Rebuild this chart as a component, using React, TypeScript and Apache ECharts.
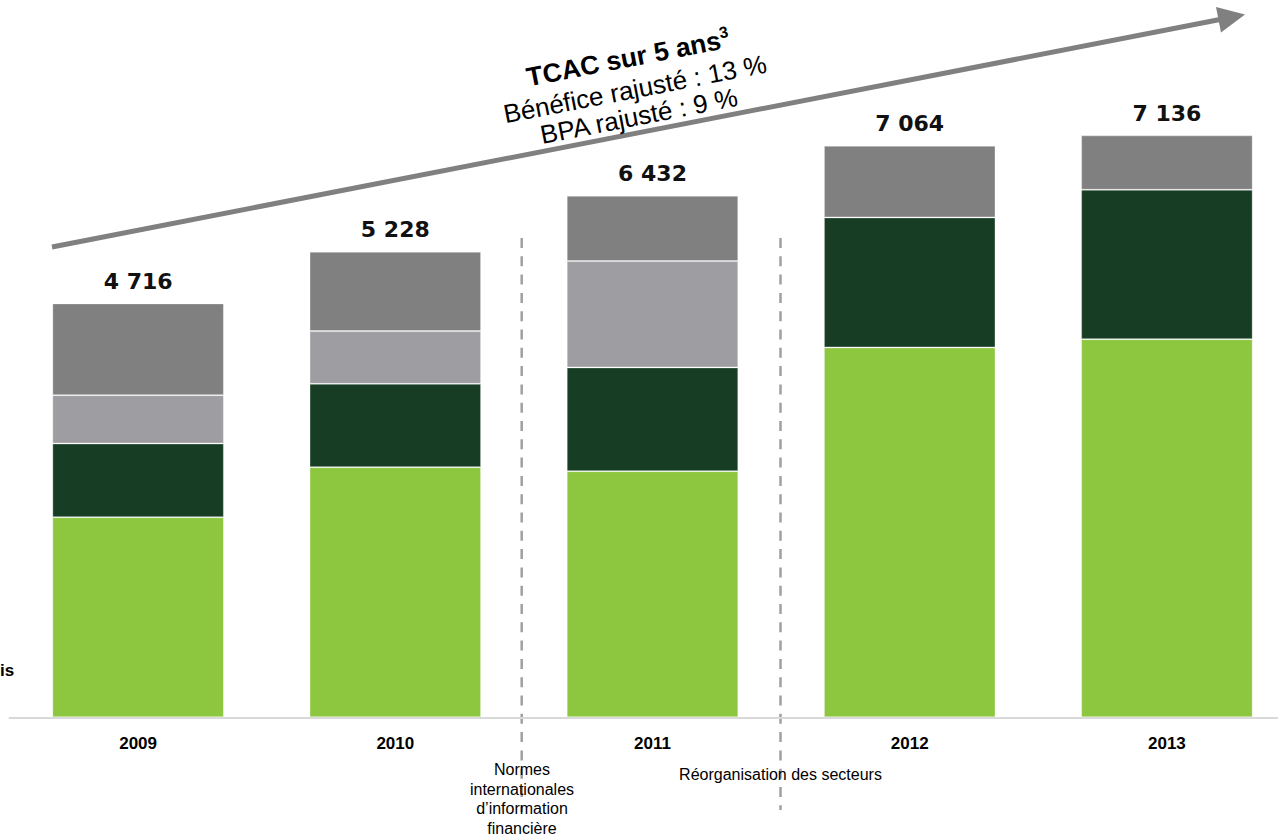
import React, { useEffect, useRef } from "react";
import * as echarts from "echarts";

const years = ["2009", "2010", "2011", "2012", "2013"];
const totals = [4716, 5228, 6432, 7064, 7136];
const segLightGreen = [2454, 3068, 3019, 4536, 4638];
const segDarkGreen = [904, 1022, 1272, 1595, 1832];
const segLightGray: (number | string)[] = [593, 647, 1304, "-", "-"];
const segDarkGray = [1125, 973, 801, 879, 667];

const titleLine = "TCAC sur 5 ans";
const titleSup = "3";
const line2 = "Bénéfice rajusté : 13 %";
const line3 = "BPA rajusté : 9 %";
const noteIfrs = "Normes\ninternationales\nd’information\nfinancière";
const noteReorg = "Réorganisation des secteurs";
const clippedLeft = "is";

const fmt = (v: number) => {
  const s = String(v);
  return s.length > 3 ? s.slice(0, s.length - 3) + " " + s.slice(-3) : s;
};

export default function App() {
  const ref = useRef<HTMLDivElement>(null);
  useEffect(() => {
    if (!ref.current) return;
    const chart = echarts.init(ref.current, null, { renderer: "svg" });
    const rot = 0.1925;
    const sans = '"Liberation Sans", Arial, sans-serif';
    const border = { borderColor: "rgba(255,255,255,0.3)", borderWidth: 1 };
    chart.setOption({
      animation: false,
      grid: { left: 9.5, width: 1286, top: 65, bottom: 116.7, containLabel: false },
      xAxis: {
        type: "category",
        data: years,
        axisLine: { lineStyle: { color: "#d9d9d9", width: 2 } },
        axisTick: { show: false },
        axisLabel: {
          color: "#000",
          fontWeight: "bold",
          fontSize: 17,
          fontFamily: sans,
          margin: 18,
        },
      },
      yAxis: { type: "value", min: 0, max: 8000, show: false, splitLine: { show: false } },
      series: [
        {
          type: "bar",
          stack: "t",
          barWidth: "66.7%",
          data: segLightGreen,
          itemStyle: { color: "#8DC63F", ...border },
        },
        {
          type: "bar",
          stack: "t",
          data: segDarkGreen,
          itemStyle: { color: "#173E24", ...border },
        },
        {
          type: "bar",
          stack: "t",
          data: segLightGray,
          itemStyle: { color: "#9E9DA1", ...border },
        },
        {
          type: "bar",
          stack: "t",
          data: segDarkGray,
          itemStyle: { color: "#808080", ...border },
          label: {
            show: true,
            position: "top",
            distance: 11,
            color: "#111",
            fontFamily: '"DejaVu Sans", Verdana, sans-serif',
            fontWeight: "bold",
            fontSize: 22,
            formatter: (p: any) => fmt(totals[p.dataIndex]),
          },
        },
      ],
      graphic: [
        {
          type: "line",
          shape: { x1: 52, y1: 247, x2: 1220, y2: 19.5 },
          style: { stroke: "#808080", lineWidth: 5 },
        },
        {
          type: "polygon",
          shape: { points: [[1245, 14.5], [1216, 6.9], [1221, 32.5]] },
          style: { fill: "#808080" },
        },
        {
          type: "text",
          x: 628,
          y: 58,
          rotation: rot,
          style: {
            text: "{a|" + titleLine + "}{b|" + titleSup + "}",
            textAlign: "center",
            textVerticalAlign: "middle",
            rich: {
              a: { fontSize: 26.5, fontWeight: "bold", fontFamily: sans, fill: "#000", lineHeight: 30 },
              b: { fontSize: 16, fontWeight: "bold", fontFamily: sans, fill: "#000", lineHeight: 16, verticalAlign: "top" },
            },
          },
        },
        {
          type: "text",
          x: 635,
          y: 89,
          rotation: rot,
          style: {
            text: line2,
            font: "26px " + sans,
            fill: "#000",
            textAlign: "center",
            textVerticalAlign: "middle",
          },
        },
        {
          type: "text",
          x: 639,
          y: 116,
          rotation: rot,
          style: {
            text: line3,
            font: "26px " + sans,
            fill: "#000",
            textAlign: "center",
            textVerticalAlign: "middle",
          },
        },
        {
          type: "line",
          shape: { x1: 521.7, y1: 238, x2: 521.7, y2: 812 },
          style: { stroke: "#a0a0a0", lineWidth: 2.5, lineDash: [10, 8.3] },
        },
        {
          type: "line",
          shape: { x1: 780.5, y1: 238, x2: 780.5, y2: 810 },
          style: { stroke: "#a0a0a0", lineWidth: 2.5, lineDash: [10, 8.3] },
        },
        {
          type: "text",
          x: 522,
          y: 760,
          style: {
            text: noteIfrs,
            font: "16px " + sans,
            lineHeight: 19.5,
            fill: "#000",
            textAlign: "center",
            textVerticalAlign: "top",
          },
        },
        {
          type: "text",
          x: 780.5,
          y: 774,
          style: {
            text: noteReorg,
            font: "16px " + sans,
            fill: "#000",
            textAlign: "center",
            textVerticalAlign: "middle",
          },
        },
        {
          type: "text",
          x: 0,
          y: 670,
          style: {
            text: clippedLeft,
            font: "bold 17px " + sans,
            fill: "#000",
            textAlign: "left",
            textVerticalAlign: "middle",
          },
        },
      ],
    });
    return () => chart.dispose();
  }, []);
  return (
    <div
      style={{
        position: "fixed",
        left: 0,
        top: 0,
        width: 1278,
        height: 834,
        overflow: "hidden",
        background: "#fff",
      }}
    >
      <div ref={ref} style={{ width: 1296, height: 834 }} />
    </div>
  );
}
